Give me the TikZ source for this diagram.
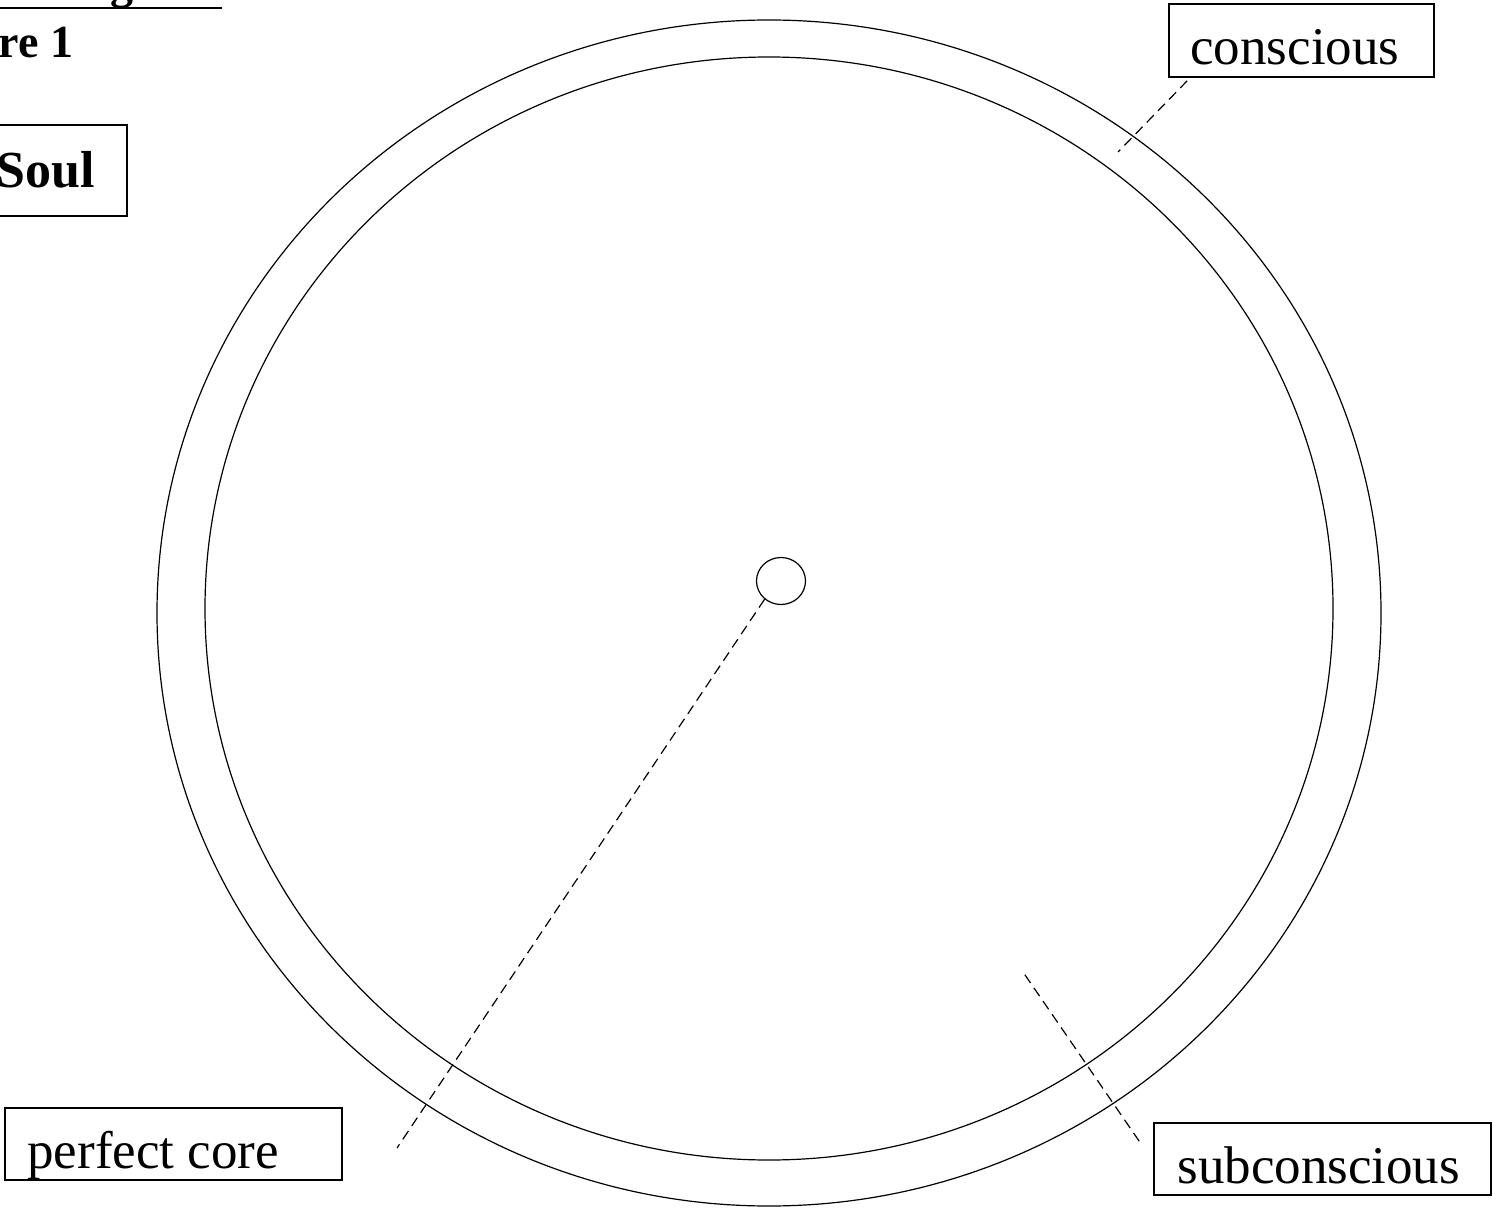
\documentclass[tikz,border=0pt]{standalone}
\usepackage{fontspec}
\setmainfont{Liberation Serif}
\usetikzlibrary{shapes.geometric}
\begin{document}
\begin{tikzpicture}[x=0.5pt,y=-0.5pt,
  ring/.style={draw, line width=0.6pt},
  lead/.style={draw, line width=0.6pt, dash pattern=on 5pt off 3pt},
  box/.style={draw, line width=0.8pt, inner sep=0pt, minimum width=168.5pt, minimum height=36pt},
  lbl/.style={inner sep=0pt, anchor=base west, font=\fontsize{26.5}{30}\selectfont},
  head/.style={inner sep=0pt, anchor=base west, font=\fontsize{23}{27}\selectfont\bfseries}]
\useasboundingbox (0,0) rectangle (1493,1208);
% heading (mostly outside the page)
\node[head] (title) at (41,-1) {Diagram};
\draw[line width=1pt] (0,8) -- (222,8);
\node[head] (fig) at (-91,58) {Figure 1};
% Soul box
\node[draw, line width=0.8pt, inner sep=0pt, minimum width=83.5pt, minimum height=45.5pt] (soulbox) at (43.5,170.5) {};
\node[inner sep=0pt, anchor=base west, font=\fontsize{26}{30}\selectfont\bfseries] (soul) at (-4,188) {Soul};
% rings
\draw[ring] (769,613) ellipse [x radius=612, y radius=593];
\draw[ring] (769,608.5) ellipse [x radius=564, y radius=551.5];
\node[draw, ellipse, line width=0.6pt, inner sep=0pt, minimum width=24.5pt, minimum height=23.5pt] (core) at (781,581) {};
% label boxes
\node[box, minimum width=132.5pt, minimum height=36.5pt] (cbox) at (1301.5,40.5) {};
\node[lbl] (ctext) at (1190,65) {conscious};
\node[box] (pbox) at (173.5,1144) {};
\node[lbl] (ptext) at (27,1168) {perfect core};
\node[box] (sbox) at (1322.5,1159) {};
\node[lbl] (stext) at (1177,1183) {subconscious};
% leaders
\coordinate (cend) at (1118,152);
\coordinate (pend) at (397,1148);
\coordinate (send) at (1023,972);
\draw[lead] ([xshift=9.5pt,yshift=-1.5pt]cbox.south west) -- (cend);
\draw[lead] (core.228) -- (pend);
\draw[lead] ([xshift=-7pt,yshift=-9.5pt]sbox.north west) -- (send);
\end{tikzpicture}
\end{document}
